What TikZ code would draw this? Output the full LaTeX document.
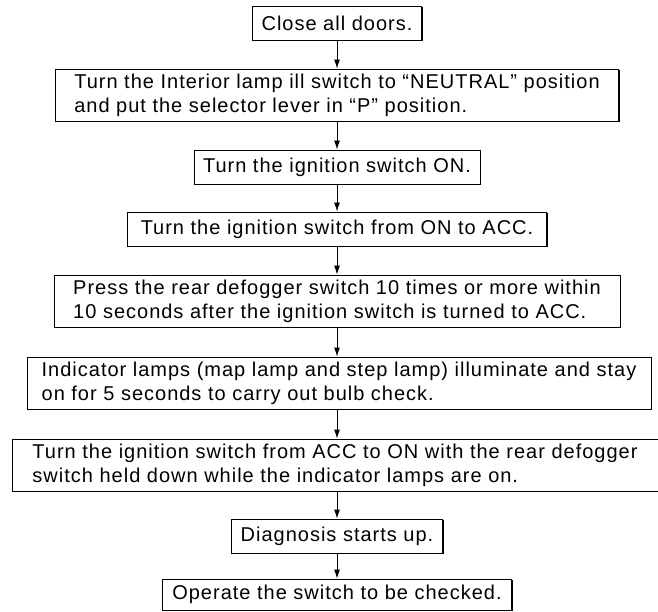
\documentclass[tikz,border=0pt]{standalone}
\usepackage{fontspec}
\setmainfont{Liberation Sans}[LetterSpace=5]
\usetikzlibrary{arrows.meta,shadows}
\begin{document}
\begin{tikzpicture}[x=1pt,y=1pt,
  stepbox/.style={draw, line width=0.9pt, fill=white, inner sep=0pt, align=left,
    font=\fontsize{20}{24}\selectfont,
    drop shadow={shadow xshift=1.3pt, shadow yshift=-1.3pt, fill=black, opacity=1}},
  arr/.style={-{Latex[length=9pt,width=6pt]}, line width=0.9pt}]
\useasboundingbox (0,0) rectangle (658,-612);
\node[stepbox, minimum width=169pt, minimum height=34pt] (b1) at (337,-23) {Close all doors.};
\node[stepbox, minimum width=563pt, minimum height=52pt] (b2) at (337,-95) {Turn the Interior lamp ill switch to “NEUTRAL” position\\and put the selector lever in “P” position.};
\node[stepbox, minimum width=286pt, minimum height=34pt] (b3) at (337,-167) {Turn the ignition switch ON.};
\node[stepbox, minimum width=419pt, minimum height=34pt] (b4) at (337,-229) {Turn the ignition switch from ON to ACC.};
\node[stepbox, minimum width=566pt, minimum height=52pt] (b5) at (337,-301) {Press the rear defogger switch 10 times or more within\\10 seconds after the ignition switch is turned to ACC.};
\node[stepbox, minimum width=624pt, minimum height=52pt] (b6) at (339,-383) {Indicator lamps (map lamp and step lamp) illuminate and stay\\on for 5 seconds to carry out bulb check.};
\node[stepbox, minimum width=646pt, minimum height=52pt] (b7) at (335,-465) {Turn the ignition switch from ACC to ON with the rear defogger\\switch held down while the indicator lamps are on.};
\node[stepbox, minimum width=211pt, minimum height=34pt] (b8) at (337,-536) {Diagnosis starts up.};
\node[stepbox, minimum width=349pt, minimum height=31pt] (b9) at (337,-594.5) {Operate the switch to be checked.};
\draw[arr] (b1.south) -- (b2.north);
\draw[arr] (b2.south) -- (b3.north);
\draw[arr] (b3.south) -- (b4.north);
\draw[arr] (b4.south) -- (b5.north);
\draw[arr] (b5.south) -- (b5.south |- b6.north);
\draw[arr] (b6.south -| b5.south) -- (b5.south |- b7.north);
\draw[arr] (b7.south -| b5.south) -- (b8.north);
\draw[arr] (b8.south) -- (b9.north);
\end{tikzpicture}
\end{document}
